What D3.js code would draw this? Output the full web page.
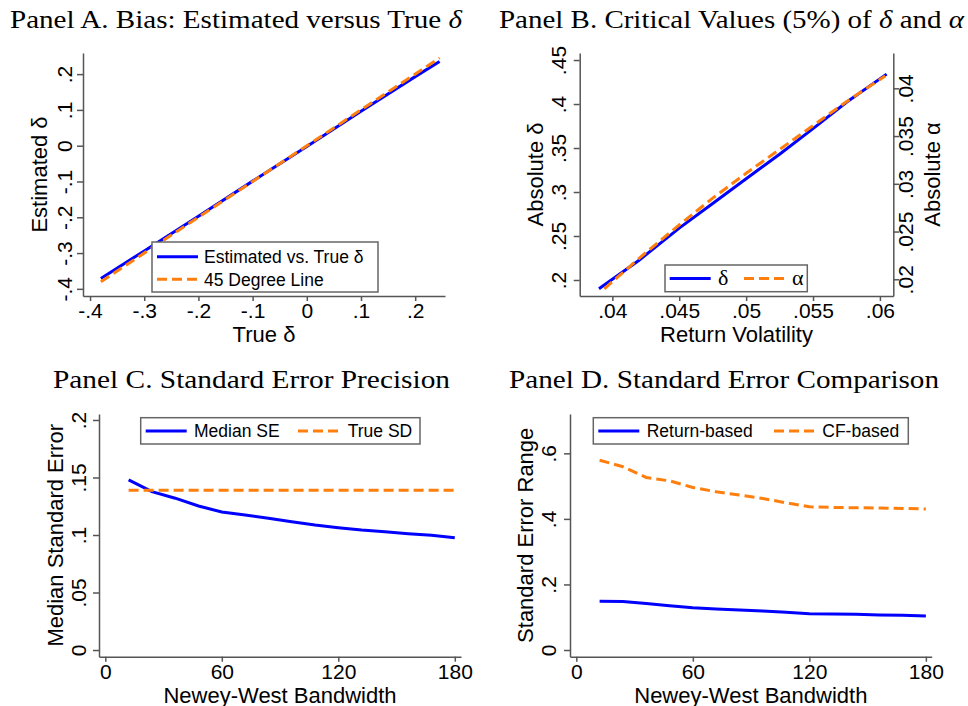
<!DOCTYPE html>
<html>
<head>
<meta charset="utf-8">
<script src="https://cdn.jsdelivr.net/npm/d3@7"></script>
<style>body{margin:0;background:#fff}</style>
</head>
<body>
<svg id="chart" width="968" height="706"></svg>
<script>
// Panel A: bias
var trueDelta = [-0.38, -0.3, -0.2, -0.1, 0, 0.1, 0.2, 0.245];
var estDelta = [-0.371, -0.294, -0.197, -0.099, -0.002, 0.096, 0.193, 0.235];
var lineEnds = [-0.38, 0.245];

// Panel B: critical values
var volDelta = [0.039, 0.042, 0.045, 0.0475, 0.05, 0.0525, 0.055, 0.0575, 0.0605];
var critDelta = [0.19, 0.2225, 0.259, 0.287, 0.315, 0.343, 0.372, 0.402, 0.434];
var volAlpha = [0.0394, 0.042, 0.045, 0.0475, 0.05, 0.0525, 0.055, 0.0575, 0.0604];
var critAlpha = [0.019, 0.0222, 0.0257, 0.0285, 0.0311, 0.0336, 0.0361, 0.0386, 0.0413];

// Panels C and D: Newey-West bandwidth
var bandwidth = [12, 24, 36, 48, 60, 72, 84, 96, 108, 120, 132, 144, 156, 168, 180];
var medianSE = [0.148, 0.1377, 0.132, 0.1252, 0.12, 0.1174, 0.1145, 0.1116, 0.1087, 0.1064, 0.1043, 0.1029, 0.1011, 0.0997, 0.0977];
var trueSD = [0.139, 0.139, 0.139, 0.139, 0.139, 0.139, 0.139, 0.139, 0.139, 0.139, 0.139, 0.139, 0.139, 0.139, 0.139];
var returnSE = [0.149, 0.148, 0.142, 0.135, 0.129, 0.125, 0.122, 0.119, 0.115, 0.111, 0.110, 0.109, 0.107, 0.106, 0.104];
var cfSE = [0.579, 0.559, 0.5265, 0.516, 0.496, 0.4827, 0.4726, 0.4624, 0.449, 0.437, 0.435, 0.434, 0.433, 0.432, 0.43];

var ticksA = [-0.4, -0.3, -0.2, -0.1, 0, 0.1, 0.2];
var ticksBx = [0.04, 0.045, 0.05, 0.055, 0.06];
var ticksBl = [0.2, 0.25, 0.3, 0.35, 0.4, 0.45];
var ticksBr = [0.02, 0.025, 0.03, 0.035, 0.04];
var ticksBw = [0, 60, 120, 180];
var ticksC = [0, 0.05, 0.1, 0.15, 0.2];
var ticksD = [0, 0.2, 0.4, 0.6];

var svg = d3.select("#chart");
var sans = "'Liberation Sans', Arial, sans-serif";
var serif = "'Liberation Serif', 'Times New Roman', serif";
var BLUE = "#0000ff", ORANGE = "#ff7f0e", AXIS = "#555";

var fmt = function(d) {
  if (d === 0) return "0";
  return String(+d.toFixed(4)).replace(/^(-?)0\./, "$1.");
};

var title = function(parts, x0, x1, y) {
  var t = svg.append("text").attr("x", x0).attr("y", y)
    .style("font-family", serif).style("font-size", "25px");
  parts.forEach(function(p) {
    t.append("tspan").text(p[0]).style("font-style", p[1] ? "italic" : null);
  });
  t.attr("textLength", x1 - x0).attr("lengthAdjust", "spacingAndGlyphs");
};

var styleAxis = function(ax) {
  ax.attr("color", AXIS).attr("font-family", sans).attr("font-size", 21);
  ax.selectAll("path, line").attr("stroke-width", 1.5);
  ax.selectAll("text").attr("fill", "#000");
};

var yAxis = function(scale, x, ticks, gap, side) {
  var a = side === "right" ? d3.axisRight(scale) : d3.axisLeft(scale);
  var ax = svg.append("g").attr("transform", "translate(" + x + ",0)")
    .call(a.tickValues(ticks).tickFormat(fmt).tickSize(6).tickSizeOuter(0));
  styleAxis(ax);
  var off = side === "right" ? gap : -gap;
  ax.selectAll(".tick text").attr("x", null).attr("dy", null)
    .attr("text-anchor", "middle")
    .attr("transform", "translate(" + off + ",0) rotate(-90)");
};

var xAxis = function(scale, y, ticks, base) {
  var ax = svg.append("g").attr("transform", "translate(0," + y + ")")
    .call(d3.axisBottom(scale).tickValues(ticks).tickFormat(fmt).tickSize(5).tickSizeOuter(0));
  styleAxis(ax);
  ax.selectAll(".tick text").attr("y", base).attr("dy", null);
};

var label = function(txt, x, y, rot) {
  svg.append("text").attr("text-anchor", "middle")
    .attr("transform", "translate(" + x + "," + y + ")" + (rot ? " rotate(-90)" : ""))
    .style("font-family", sans).style("font-size", "22px").text(txt);
};

var line = function(xs, ys, sx, sy, color, dashed) {
  var gen = d3.line().x(function(d) { return sx(d[0]); }).y(function(d) { return sy(d[1]); });
  svg.append("path").datum(d3.zip(xs, ys)).attr("d", gen)
    .attr("fill", "none").attr("stroke", color).attr("stroke-width", 3)
    .attr("stroke-dasharray", dashed ? "10,5" : null);
};

var legend = function(box, items) {
  svg.append("rect").attr("x", box[0]).attr("y", box[1]).attr("width", box[2]).attr("height", box[3])
    .attr("fill", "#fff").attr("stroke", "#666").attr("stroke-width", 1.5);
  items.forEach(function(it) {
    svg.append("line").attr("x1", it.x1).attr("x2", it.x1 + 41).attr("y1", it.y).attr("y2", it.y)
      .attr("stroke", it.color).attr("stroke-width", 3).attr("stroke-dasharray", it.dashed ? "10,5" : null);
    svg.append("text").attr("x", it.tx).attr("y", it.y + 6.2)
      .style("font-family", it.font || sans).style("font-size", it.size || "17.5px").text(it.text);
  });
};

// ---- Panel A
var xa = d3.scaleLinear().domain([-0.413, 0.255]).range([83, 445]);
var ya = d3.scaleLinear().domain([-0.42, 0.259]).range([296, 53]);
title([["Panel A. Bias: Estimated versus True "], ["δ", true]], 10, 462, 28);
yAxis(ya, 83, ticksA, 11.5);
xAxis(xa, 296, ticksA, 22);
label("Estimated δ", 47, 174.5, true);
label("True δ", 264, 342);
line(trueDelta, estDelta, xa, ya, BLUE);
line(lineEnds, lineEnds, xa, ya, ORANGE, true);
legend([152, 242, 226, 50], [
  { x1: 157, y: 256.7, tx: 204, text: "Estimated vs. True δ", color: BLUE },
  { x1: 157, y: 279.3, tx: 204, text: "45 Degree Line", color: ORANGE, dashed: true }
]);

// ---- Panel B
var xb = d3.scaleLinear().domain([0.03756, 0.061]).range([579.7, 893.3]);
var ybl = d3.scaleLinear().domain([0.1818, 0.458]).range([296, 53]);
var ybr = d3.scaleLinear().domain([0.01825, 0.0437]).range([296, 53]);
title([["Panel B. Critical Values (5%) of "], ["δ", true], [" and "], ["α", true]], 499, 964, 28);
yAxis(ybl, 579.7, ticksBl, 14);
yAxis(ybr, 893.3, ticksBr, 20, "right");
xAxis(xb, 296, ticksBx, 22);
label("Absolute δ", 543, 174.5, true);
label("Absolute α", 940, 174.5, true);
label("Return Volatility", 736.5, 342);
line(volDelta, critDelta, xb, ybl, BLUE);
line(volAlpha, critAlpha, xb, ybr, ORANGE, true);
legend([665, 265, 142.3, 26.7], [
  { x1: 669.7, y: 278.4, tx: 718, text: "δ", color: BLUE, font: serif, size: "22px" },
  { x1: 744, y: 278.4, tx: 792, text: "α", color: ORANGE, dashed: true, font: serif, size: "22px" }
]);

// ---- Panel C
var xc = d3.scaleLinear().domain([-3.25, 183.2]).range([99, 461]);
var yc = d3.scaleLinear().domain([-0.0058, 0.2052]).range([656.7, 414]);
title([["Panel C. Standard Error Precision"]], 53, 450, 388);
yAxis(yc, 99, ticksC, 13);
xAxis(xc, 656.7, ticksBw, 22.3);
label("Median Standard Error", 63, 535.3, true);
label("Newey-West Bandwidth", 280, 702.5);
line(bandwidth, medianSE, xc, yc, BLUE);
line(bandwidth, trueSD, xc, yc, ORANGE, true);
legend([140.7, 417.7, 279.3, 26.3], [
  { x1: 145.7, y: 431, tx: 194, text: "Median SE", color: BLUE },
  { x1: 298, y: 431, tx: 347.7, text: "True SD", color: ORANGE, dashed: true }
]);

// ---- Panel D
var xd = d3.scaleLinear().domain([-3.25, 183]).range([570, 931.7]);
var yd = d3.scaleLinear().domain([-0.0204, 0.72]).range([656.7, 414]);
title([["Panel D. Standard Error Comparison"]], 509, 939, 388);
yAxis(yd, 570, ticksD, 14.3);
xAxis(xd, 656.7, ticksBw, 22.3);
label("Standard Error Range", 532.5, 535.3, true);
label("Newey-West Bandwidth", 750.8, 702.5);
line(bandwidth, returnSE, xd, yd, BLUE);
line(bandwidth, cfSE, xd, yd, ORANGE, true);
legend([593.3, 417.7, 315, 26.3], [
  { x1: 598.3, y: 431, tx: 646.7, text: "Return-based", color: BLUE },
  { x1: 774, y: 431, tx: 822.3, text: "CF-based", color: ORANGE, dashed: true }
]);
</script>
</body>
</html>
